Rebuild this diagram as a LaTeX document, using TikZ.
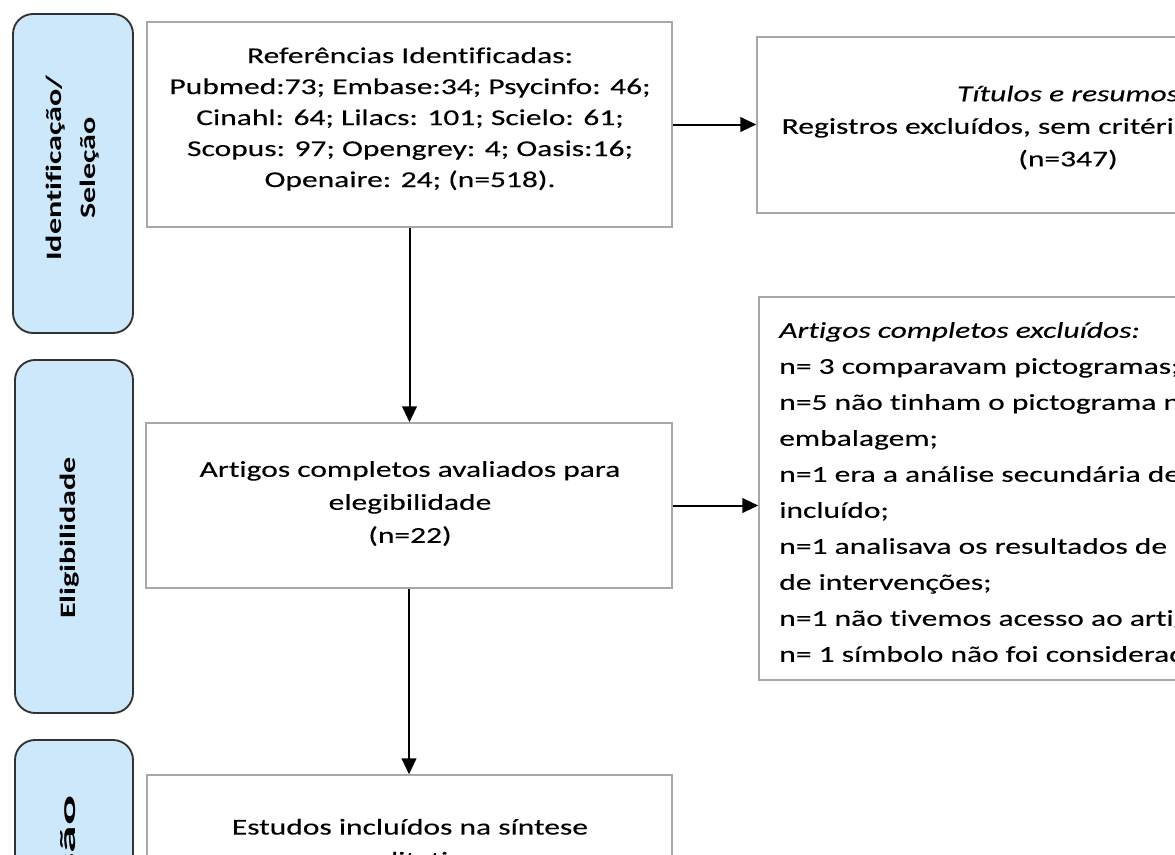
\documentclass[tikz,border=0pt]{standalone}
\usepackage{fontspec}
\usepackage{graphicx}
\setmainfont{Carlito}[FakeStretch=1.39,Ligatures=NoCommon,FakeBold=0.2]
\newfontfamily\lblfont{Carlito}[FakeStretch=1.46,Ligatures=NoCommon]
\usetikzlibrary{arrows.meta,fit}
\definecolor{boxgray}{RGB}{168,168,168}
\definecolor{phasefill}{RGB}{205,232,250}
\definecolor{phaseedge}{RGB}{50,50,50}
\begin{document}
\begin{tikzpicture}[x=0.75pt,y=-0.75pt,
  box/.style={draw=boxgray,line width=1.1pt,inner sep=0pt},
  phase/.style={draw=phaseedge,fill=phasefill,line width=1.4pt,rounded corners=15pt,inner sep=0pt},
  lbl/.style={font=\lblfont\bfseries\fontsize{16.5pt}{25.5pt}\selectfont,align=center,inner sep=0pt,rotate=90},
  txt/.style={align=center,inner sep=0pt},
  arr/.style={-{Triangle[length=12pt,width=11pt]},line width=1.5pt,black}]
\useasboundingbox (0,0) rectangle (1175,854);
\clip (0,0) rectangle (1175,854);
% phase boxes
\node[phase,fit={(13,14) (133,333)}] (p1) {};
\node[phase,fit={(15,360) (133,713)}] (p2) {};
\node[phase,fit={(15,740) (133,1040)}] (p3) {};
\node[lbl] (l1) at (73,168) {Identificação/\\Seleção};
\node[lbl] (l2) at (70,538) {Eligibilidade};
\node[lbl] (l3) at (68,892) {\scalebox{1.75}[1]{Inclusão}};
% boxes
\node[box,fit={(147,22) (672,227)}] (A) {};
\node[box,fit={(757,37) (1380,213)}] (B) {};
\node[box,fit={(146,423) (672,588)}] (C) {};
\node[box,fit={(759,297) (1400,680)}] (D) {};
\node[box,fit={(147,775) (672,1000)}] (E) {};
% texts
\node[txt,font=\fontsize{17pt}{23.25pt}\selectfont] (tA) at (410,119)
  {Referências Identificadas:\\Pubmed:73; Embase:34; Psycinfo: 46;\\Cinahl: 64; Lilacs: 101; Scielo: 61;\\Scopus: 97; Opengrey: 4; Oasis:16;\\Openaire: 24; (n=518).};
\node[txt,font=\fontsize{17pt}{24.4pt}\selectfont] (tB) at (1068,127.5)
  {\textit{Títulos e resumos}\\Registros excluídos, sem critérios de inclusão\\(n=347)};
\node[txt,font=\fontsize{17pt}{24.75pt}\selectfont] (tC) at (410,503.5)
  {Artigos completos avaliados para\\elegibilidade\\(n=22)};
\node[txt,align=left,anchor=west,font=\fontsize{17pt}{27pt}\selectfont] (tD) at (779,492)
  {\textit{Artigos completos excluídos:}\\n= 3 comparavam pictogramas;\\n=5 não tinham o pictograma na\\embalagem;\\n=1 era a análise secundária de um\\incluído;\\n=1 analisava os resultados de um\\de intervenções;\\n=1 não tivemos acesso ao artigo;\\n= 1 símbolo não foi considerado.};
\node[txt,font=\fontsize{17pt}{24.75pt}\selectfont] (tE) at (410,845)
  {Estudos incluídos na síntese\\qualitativa};
% arrows
\draw[arr] (A.east) -- (A.east -| B.west);
\draw[arr] (A.south) -- (A.south |- C.north);
\draw[arr] (C.east) -- (C.east -| D.west);
\draw[arr] (C.south) -- (C.south |- E.north);
\end{tikzpicture}
\end{document}
